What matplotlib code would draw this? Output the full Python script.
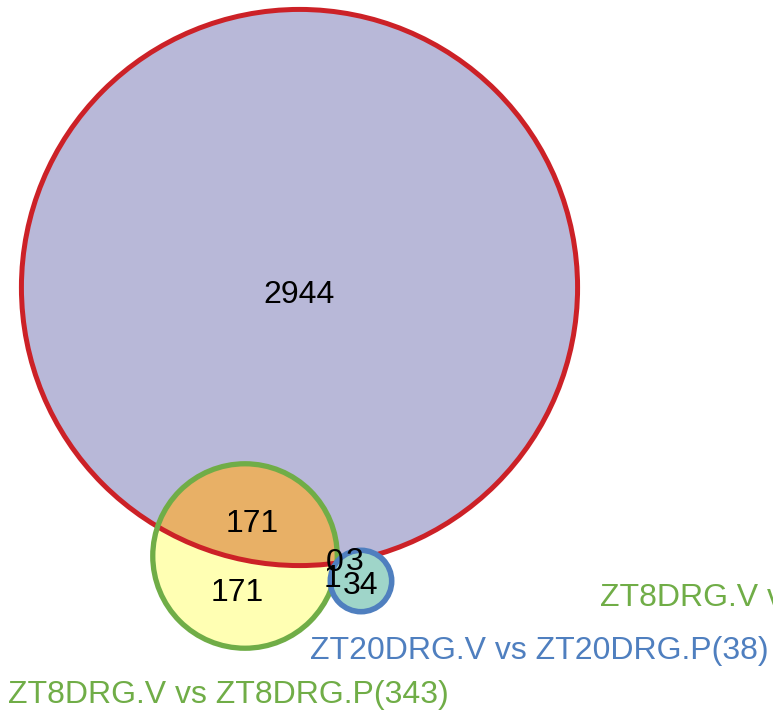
import numpy as np
import matplotlib
matplotlib.use("Agg")
import matplotlib.pyplot as plt
from matplotlib.patches import Circle

plt.rcParams['font.family'] = ['Liberation Sans', 'DejaVu Sans']

# Set names and sizes
set_names = ["ZT8DRG.V vs ZT20DRG.V", "ZT8DRG.V vs ZT8DRG.P", "ZT20DRG.V vs ZT20DRG.P"]
set_sizes = [3118, 343, 38]
# Region counts
region_labels = ["2944", "171", "171", "0", "3", "1", "34"]

# layout (pixel space)
centers = [(299.5, 287.5), (245, 556), (361, 581)]
scale = 4.98
radii = [scale * np.sqrt(n) for n in set_sizes]
# (x center, baseline y)
region_pos = [(299, 303), (252, 532), (237, 601), (335, 571), (355, 570), (333, 587), (361, 594)]
label_pos = [(600, 606), (8, 703), (310, 659)]
edge_colors = ["#cc2127", "#70ad47", "#4f7fbf"]
label_colors = ["#70ad47", "#70ad47", "#4f7fbf"]

fig = plt.figure(figsize=(7.73, 7.15), dpi=100)
ax = fig.add_axes([0, 0, 1, 1])
ax.set_xlim(0, 773)
ax.set_ylim(715, 0)
ax.set_aspect('equal')
ax.axis('off')

red_fill = Circle(centers[0], radii[0], facecolor="#b8b8d8", edgecolor='none', zorder=1)
ax.add_patch(red_fill)
green_fill = Circle(centers[1], radii[1], facecolor="#ffffb3", edgecolor='none', zorder=2)
ax.add_patch(green_fill)
orange = Circle(centers[1], radii[1], facecolor="#e8b066", edgecolor='none', zorder=3)
ax.add_patch(orange)
orange.set_clip_path(red_fill)
ax.add_patch(Circle(centers[0], radii[0], facecolor='none', edgecolor=edge_colors[0], lw=3.6, zorder=4))
ax.add_patch(Circle(centers[1], radii[1], facecolor='none', edgecolor=edge_colors[1], lw=3.8, zorder=5))
ax.add_patch(Circle(centers[2], radii[2], facecolor="#9fd5c9", edgecolor=edge_colors[2], lw=4.0, zorder=6))

for t, (x, y) in zip(region_labels, region_pos):
    ax.text(x, y, t, fontsize=23, ha='center', va='baseline', color='black', zorder=10)

full_labels = [f"{n}({s})" for n, s in zip(set_names, set_sizes)]
for t, (x, y), c in zip(full_labels, label_pos, label_colors):
    ax.text(x, y, t, fontsize=23, ha='left', va='baseline', color=c, zorder=10)

fig.savefig("out.png", dpi=100)
